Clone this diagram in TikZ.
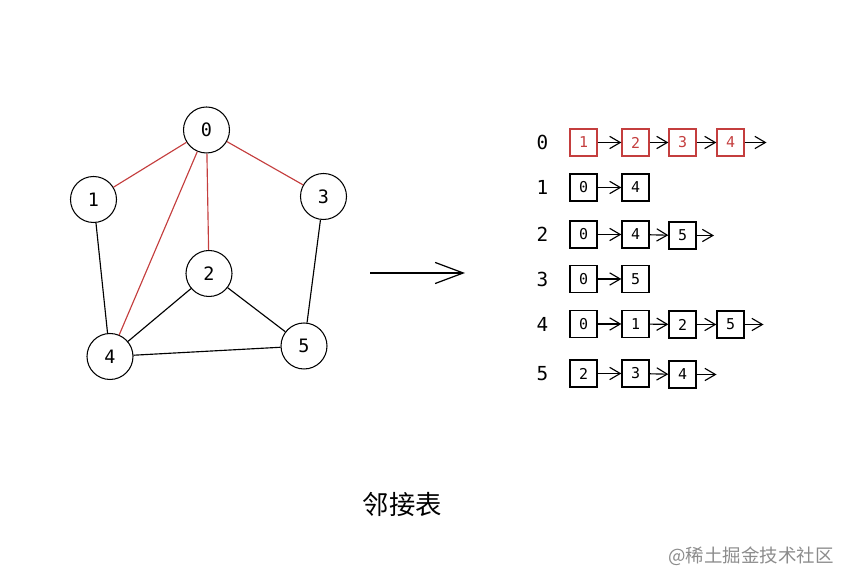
\documentclass[tikz,border=0pt]{standalone}
\usepackage{fontspec}
\setmonofont{DejaVu Sans Mono}
\newfontfamily\cjk{Noto Sans CJK SC}
\usetikzlibrary{arrows.meta}
\definecolor{edgered}{RGB}{196,62,62}
\tikzset{
    vertex/.style={draw, circle, line width=0.6pt, minimum size=0.92cm, inner sep=0pt, font=\ttfamily\fontsize{10.5}{12}\selectfont},
    cell/.style={draw, line width=0.75pt, minimum size=0.54cm, inner sep=0pt, font=\ttfamily\fontsize{8.5}{10}\selectfont},
    redcell/.style={cell, draw=edgered, text=edgered},
    rowlabel/.style={font=\ttfamily\fontsize{11}{13}\selectfont},
    link/.style={-{Straight Barb[length=6pt,width=7pt]}, line width=0.65pt},
}
\begin{document}
\begin{tikzpicture}
        \useasboundingbox (0, 0) rectangle (16.98, 11.7);

        % graph
        \node[vertex] (v0) at(4.13, 9.10){0};
        \node[vertex] (v1) at(1.87, 7.71){1};
        \node[vertex] (v2) at(4.18, 6.23){2};
        \node[vertex] (v3) at(6.47, 7.77){3};
        \node[vertex] (v4) at(2.20, 4.57){4};
        \node[vertex] (v5) at(6.08, 4.78){5};

        \draw[edgered, line width=0.65pt] (v0) to (v1);
        \draw[edgered, line width=0.65pt] (v0) to (v2);
        \draw[edgered, line width=0.65pt] (v0) to (v3);
        \draw[edgered, line width=0.65pt] (v0) to (v4);
        \draw[line width=0.65pt] (v1) to (v4);
        \draw[line width=0.65pt] (v3) to (v5);
        \draw[line width=0.65pt] (v2) to (v4);
        \draw[line width=0.65pt] (v2) to (v5);
        \draw[line width=0.65pt] (v4) to (v5);

        \coordinate (from) at(7.40, 6.24);
        \coordinate (into) at(9.30, 6.24);
        \draw[-{Straight Barb[length=16pt,width=12pt]}, line width=0.7pt] (from) to (into);

        % adjacency lists
        \node[rowlabel] (r0) at(10.85, 8.85){0};
        \node[rowlabel] (r1) at(10.85, 7.95){1};
        \node[rowlabel] (r2) at(10.85, 7.01){2};
        \node[rowlabel] (r3) at(10.85, 6.12){3};
        \node[rowlabel] (r4) at(10.85, 5.22){4};
        \node[rowlabel] (r5) at(10.85, 4.23){5};

        \node[redcell] (a01) at(11.67, 8.85){1};
        \node[redcell] (a02) at(12.71, 8.85){2};
        \node[redcell] (a03) at(13.65, 8.85){3};
        \node[redcell] (a04) at(14.61, 8.85){4};
        \coordinate (e0) at(15.33, 8.85);
        \draw[link] (a01) to (a02);
        \draw[link] (a02) to (a03);
        \draw[link] (a03) to (a04);
        \draw[link] (a04) to (e0);

        \node[cell] (a11) at(11.67, 7.95){0};
        \node[cell] (a12) at(12.71, 7.95){4};
        \draw[link] (a11) to (a12);

        \node[cell] (a21) at(11.67, 7.01){0};
        \node[cell] (a22) at(12.71, 7.01){4};
        \node[cell] (a23) at(13.65, 6.99){5};
        \coordinate (e2) at(14.28, 6.99);
        \draw[link] (a21) to (a22);
        \draw[link] (a22) to (a23);
        \draw[link] (a23) to (e2);

        \node[cell] (a31) at(11.67, 6.12){0};
        \node[cell] (a32) at(12.71, 6.12){5};
        \draw[link] (a31) to (a32);

        \node[cell] (a41) at(11.67, 5.22){0};
        \node[cell] (a42) at(12.71, 5.22){1};
        \node[cell] (a43) at(13.65, 5.21){2};
        \node[cell] (a44) at(14.61, 5.21){5};
        \coordinate (e4) at(15.27, 5.21);
        \draw[link] (a41) to (a42);
        \draw[link] (a42) to (a43);
        \draw[link] (a43) to (a44);
        \draw[link] (a44) to (e4);

        \node[cell] (a51) at(11.67, 4.23){2};
        \node[cell] (a52) at(12.71, 4.23){3};
        \node[cell] (a53) at(13.65, 4.21){4};
        \coordinate (e5) at(14.33, 4.21);
        \draw[link] (a51) to (a52);
        \draw[link] (a52) to (a53);
        \draw[link] (a53) to (e5);

        \node[font=\cjk\fontsize{15}{18}\selectfont] (title) at(8.05, 1.60){邻接表};
        \node[font=\cjk\fontsize{10.5}{13}\selectfont, text=black!45] (mark) at(15.02, 0.57){@稀土掘金技术社区};
    \end{tikzpicture}
\end{document}
